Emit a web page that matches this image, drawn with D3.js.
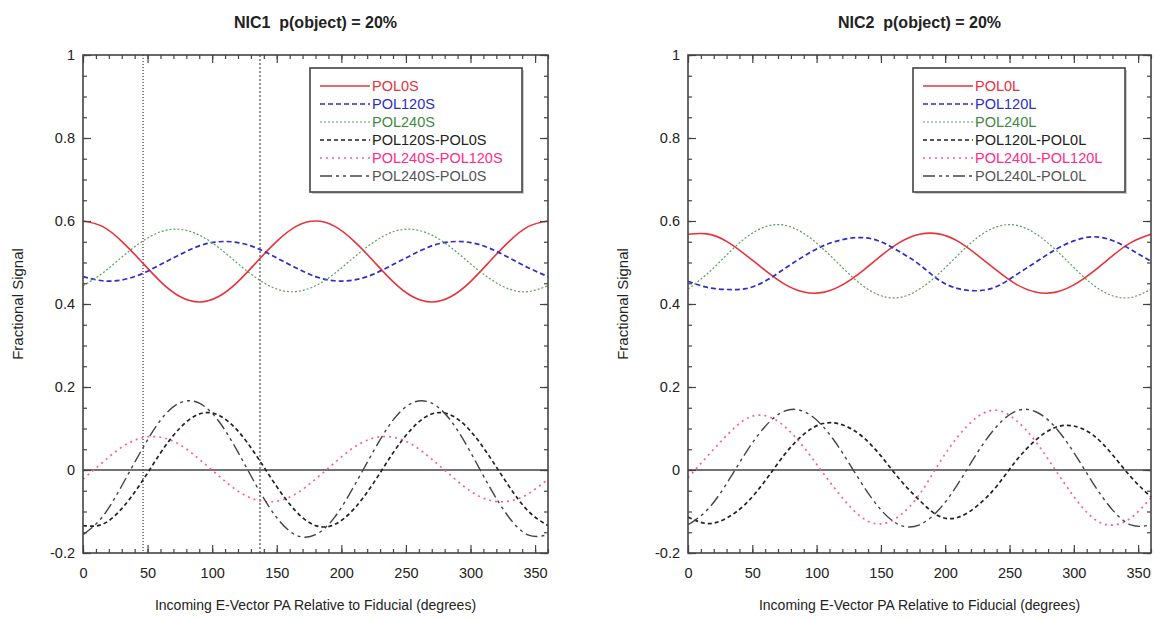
<!DOCTYPE html>
<html>
<head>
<meta charset="utf-8">
<script src="https://cdn.jsdelivr.net/npm/d3@7"></script>
<style>
  body { margin: 0; background: #fff; }
  text { font-family: "Liberation Sans", Arial, sans-serif; }
</style>
</head>
<body>
<svg id="chart" width="1156" height="619"></svg>
<script>
// angles sampled every 15 degrees
const angles = [0, 15, 30, 45, 60, 75, 90, 105, 120, 135, 150, 165, 180,
  195, 210, 225, 240, 255, 270, 285, 300, 315, 330, 345, 360];

// NIC1 (left panel)
const nic1Pol0 = [0.600, 0.587, 0.551, 0.503, 0.454, 0.418, 0.405, 0.418, 0.454, 0.503, 0.551, 0.587, 0.600,
  0.587, 0.551, 0.503, 0.454, 0.418, 0.405, 0.418, 0.454, 0.503, 0.551, 0.587, 0.600];
const nic1Pol120 = [0.466, 0.456, 0.458, 0.472, 0.495, 0.519, 0.540, 0.550, 0.548, 0.534, 0.511, 0.487, 0.466,
  0.456, 0.458, 0.472, 0.495, 0.519, 0.540, 0.550, 0.548, 0.534, 0.511, 0.487, 0.466];
const nic1Pol240 = [0.444, 0.474, 0.513, 0.549, 0.574, 0.580, 0.566, 0.536, 0.497, 0.461, 0.436, 0.430, 0.444,
  0.474, 0.513, 0.549, 0.574, 0.580, 0.566, 0.536, 0.497, 0.461, 0.436, 0.430, 0.444];
const nic1Diff120_0 = [-0.134, -0.131, -0.093, -0.031, 0.041, 0.101, 0.135, 0.132, 0.094, 0.031, -0.040, -0.100, -0.134,
  -0.131, -0.093, -0.031, 0.041, 0.101, 0.135, 0.132, 0.094, 0.031, -0.040, -0.100, -0.134];
const nic1Diff240_120 = [-0.022, 0.018, 0.055, 0.077, 0.079, 0.061, 0.026, -0.014, -0.051, -0.073, -0.075, -0.057, -0.022,
  0.018, 0.055, 0.077, 0.079, 0.061, 0.026, -0.014, -0.051, -0.073, -0.075, -0.057, -0.022];
const nic1Diff240_0 = [-0.156, -0.113, -0.038, 0.046, 0.120, 0.162, 0.161, 0.118, 0.043, -0.042, -0.115, -0.157, -0.156,
  -0.113, -0.038, 0.046, 0.120, 0.162, 0.161, 0.118, 0.043, -0.042, -0.115, -0.157, -0.156];

// NIC2 (right panel)
const nic2Pol0 = [0.568, 0.569, 0.551, 0.518, 0.481, 0.448, 0.429, 0.428, 0.446, 0.478, 0.516, 0.549, 0.568,
  0.569, 0.551, 0.518, 0.481, 0.448, 0.429, 0.428, 0.446, 0.478, 0.516, 0.549, 0.568];
const nic2Pol120 = [0.455, 0.440, 0.435, 0.437, 0.455, 0.485, 0.515, 0.540, 0.555, 0.560, 0.550, 0.525, 0.495,
  0.458, 0.437, 0.432, 0.442, 0.470, 0.500, 0.530, 0.552, 0.562, 0.553, 0.530, 0.503];
const nic2Pol240 = [0.436, 0.473, 0.518, 0.560, 0.586, 0.590, 0.570, 0.533, 0.488, 0.446, 0.420, 0.416, 0.436,
  0.473, 0.518, 0.560, 0.586, 0.590, 0.570, 0.533, 0.488, 0.446, 0.420, 0.416, 0.436];
const nic2Diff120_0 = [-0.113, -0.129, -0.116, -0.081, -0.026, 0.037, 0.086, 0.112, 0.109, 0.082, 0.034, -0.024, -0.073,
  -0.111, -0.114, -0.086, -0.039, 0.022, 0.071, 0.102, 0.106, 0.084, 0.037, -0.019, -0.065];
const nic2Diff240_120 = [-0.019, 0.033, 0.083, 0.123, 0.131, 0.105, 0.055, -0.007, -0.067, -0.114, -0.130, -0.109, -0.059,
  0.015, 0.081, 0.128, 0.144, 0.120, 0.070, 0.003, -0.064, -0.116, -0.133, -0.114, -0.067];
const nic2Diff240_0 = [-0.132, -0.096, -0.033, 0.042, 0.105, 0.142, 0.141, 0.105, 0.042, -0.032, -0.096, -0.133, -0.132,
  -0.096, -0.033, 0.042, 0.105, 0.142, 0.141, 0.105, 0.042, -0.032, -0.096, -0.133, -0.132];

const nic1Names = ["POL0S", "POL120S", "POL240S", "POL120S-POL0S", "POL240S-POL120S", "POL240S-POL0S"];
const nic2Names = ["POL0L", "POL120L", "POL240L", "POL120L-POL0L", "POL240L-POL120L", "POL240L-POL0L"];

const xTicks = [0, 50, 100, 150, 200, 250, 300, 350];
const yTicks = [-0.2, 0, 0.2, 0.4, 0.6, 0.8, 1];
const yTickLabels = ["-0.2", "0", "0.2", "0.4", "0.6", "0.8", "1"];
const nic1Markers = [46.5, 137]; // vertical reference lines

const styles = [
  { stroke: "#e8323c", dash: null, width: 1.6, text: "#e8323c" },
  { stroke: "#2d2dcc", dash: "5,3", width: 1.7, text: "#2d2dcc" },
  { stroke: "#5a9e5a", dash: "2,2", width: 1.2, text: "#3f8a3f" },
  { stroke: "#222", dash: "4,3", width: 1.7, text: "#222" },
  { stroke: "#ff5c9c", dash: "2,4", width: 1.7, text: "#ff2a88" },
  { stroke: "#444", dash: "12,4,3,4,3,4", width: 1.4, text: "#555" }
];

const panels = [
  { title: "NIC1\u00a0\u00a0p(object) = 20%", left: 83, right: 548, names: nic1Names, markers: nic1Markers,
    series: [nic1Pol0, nic1Pol120, nic1Pol240, nic1Diff120_0, nic1Diff240_120, nic1Diff240_0] },
  { title: "NIC2\u00a0\u00a0p(object) = 20%", left: 688, right: 1151, names: nic2Names, markers: [],
    series: [nic2Pol0, nic2Pol120, nic2Pol240, nic2Diff120_0, nic2Diff240_120, nic2Diff240_0] }
];

const svg = d3.select("#chart");
const plotTop = 55, plotBottom = 553;

panels.forEach((p) => {
  const x = d3.scaleLinear().domain([0, 360]).range([p.left, p.right]);
  const y = d3.scaleLinear().domain([-0.2, 1]).range([plotBottom, plotTop]);
  const g = svg.append("g");
  const cx = (p.left + p.right) / 2;

  // title
  g.append("text")
    .attr("x", cx).attr("y", 28)
    .attr("text-anchor", "middle")
    .attr("font-weight", "bold")
    .attr("font-size", 16)
    .attr("fill", "#222")
    .text(p.title);

  // zero line
  g.append("line")
    .attr("x1", x(0)).attr("x2", x(360))
    .attr("y1", y(0)).attr("y2", y(0))
    .attr("stroke", "#444").attr("stroke-width", 1.6);

  // vertical reference lines
  p.markers.forEach((m, i) => {
    g.append("line")
      .attr("x1", x(m)).attr("x2", x(m))
      .attr("y1", plotTop).attr("y2", plotBottom)
      .attr("stroke", i === 0 ? "#333" : "#888")
      .attr("stroke-width", i === 0 ? 1.2 : 1.8)
      .attr("stroke-dasharray", i === 0 ? "1,2" : "2,2");
  });

  // curves
  const line = d3.line()
    .x((d) => x(d[0]))
    .y((d) => y(d[1]))
    .curve(d3.curveNatural);

  p.series.forEach((vals, i) => {
    const s = styles[i];
    g.append("path")
      .datum(angles.map((a, k) => [a, vals[k]]))
      .attr("d", line)
      .attr("fill", "none")
      .attr("stroke", s.stroke)
      .attr("stroke-width", s.width)
      .attr("stroke-dasharray", s.dash);
  });

  // axes with inner ticks
  const minorX = d3.range(0, 361, 10);
  const minorY = d3.range(-0.2, 1.001, 0.05);

  g.append("g").attr("transform", `translate(0,${plotBottom})`)
    .call(d3.axisBottom(x).tickValues(minorX).tickSize(-4).tickFormat(""));
  g.append("g").attr("transform", `translate(0,${plotBottom})`)
    .call(d3.axisBottom(x).tickValues(xTicks).tickSize(-8).tickPadding(15).tickFormat(d3.format("d")));
  g.append("g").attr("transform", `translate(0,${plotTop})`)
    .call(d3.axisTop(x).tickValues(minorX).tickSize(-4).tickFormat(""));
  g.append("g").attr("transform", `translate(0,${plotTop})`)
    .call(d3.axisTop(x).tickValues(xTicks).tickSize(-8).tickFormat(""));

  g.append("g").attr("transform", `translate(${p.left},0)`)
    .call(d3.axisLeft(y).tickValues(minorY).tickSize(-4).tickFormat(""));
  g.append("g").attr("transform", `translate(${p.left},0)`)
    .call(d3.axisLeft(y).tickValues(yTicks).tickSize(-8).tickPadding(8)
      .tickFormat((d, i) => yTickLabels[i]));
  g.append("g").attr("transform", `translate(${p.right},0)`)
    .call(d3.axisRight(y).tickValues(minorY).tickSize(-4).tickFormat(""));
  g.append("g").attr("transform", `translate(${p.right},0)`)
    .call(d3.axisRight(y).tickValues(yTicks).tickSize(-8).tickFormat(""));

  g.selectAll(".domain").attr("stroke", "none");
  g.selectAll(".tick line").attr("stroke", "#444").attr("stroke-width", 1.2);
  g.selectAll(".tick text").attr("font-size", 14.5).attr("fill", "#222")
    .attr("font-family", "\"Liberation Sans\", Arial, sans-serif");

  // frame
  g.append("rect")
    .attr("x", p.left).attr("y", plotTop)
    .attr("width", p.right - p.left).attr("height", plotBottom - plotTop)
    .attr("fill", "none").attr("stroke", "#444").attr("stroke-width", 1.6);

  // axis titles
  g.append("text")
    .attr("x", cx).attr("y", 610)
    .attr("text-anchor", "middle")
    .attr("font-size", 14).attr("fill", "#222")
    .text("Incoming E-Vector PA Relative to Fiducial (degrees)");
  g.append("text")
    .attr("transform", `translate(${p.left - 60},${(plotTop + plotBottom) / 2}) rotate(-90)`)
    .attr("text-anchor", "middle")
    .attr("font-size", 15).attr("fill", "#222")
    .text("Fractional Signal");

  // legend
  const lx = p.right - 238, ly = 68;
  const leg = g.append("g");
  leg.append("rect")
    .attr("x", lx + 2).attr("y", ly + 2).attr("width", 212).attr("height", 124)
    .attr("fill", "#ccc");
  leg.append("rect")
    .attr("x", lx).attr("y", ly).attr("width", 212).attr("height", 124)
    .attr("fill", "#fff").attr("stroke", "#444").attr("stroke-width", 1.6);
  p.names.forEach((name, i) => {
    const s = styles[i];
    const ry = ly + 18 + i * 18;
    leg.append("line")
      .attr("x1", lx + 10).attr("x2", lx + 60)
      .attr("y1", ry).attr("y2", ry)
      .attr("stroke", s.stroke).attr("stroke-width", s.width)
      .attr("stroke-dasharray", s.dash);
    leg.append("text")
      .attr("x", lx + 62).attr("y", ry).attr("dy", "0.36em")
      .attr("font-size", 14.5).attr("fill", s.text)
      .text(name);
  });
});
</script>
</body>
</html>
